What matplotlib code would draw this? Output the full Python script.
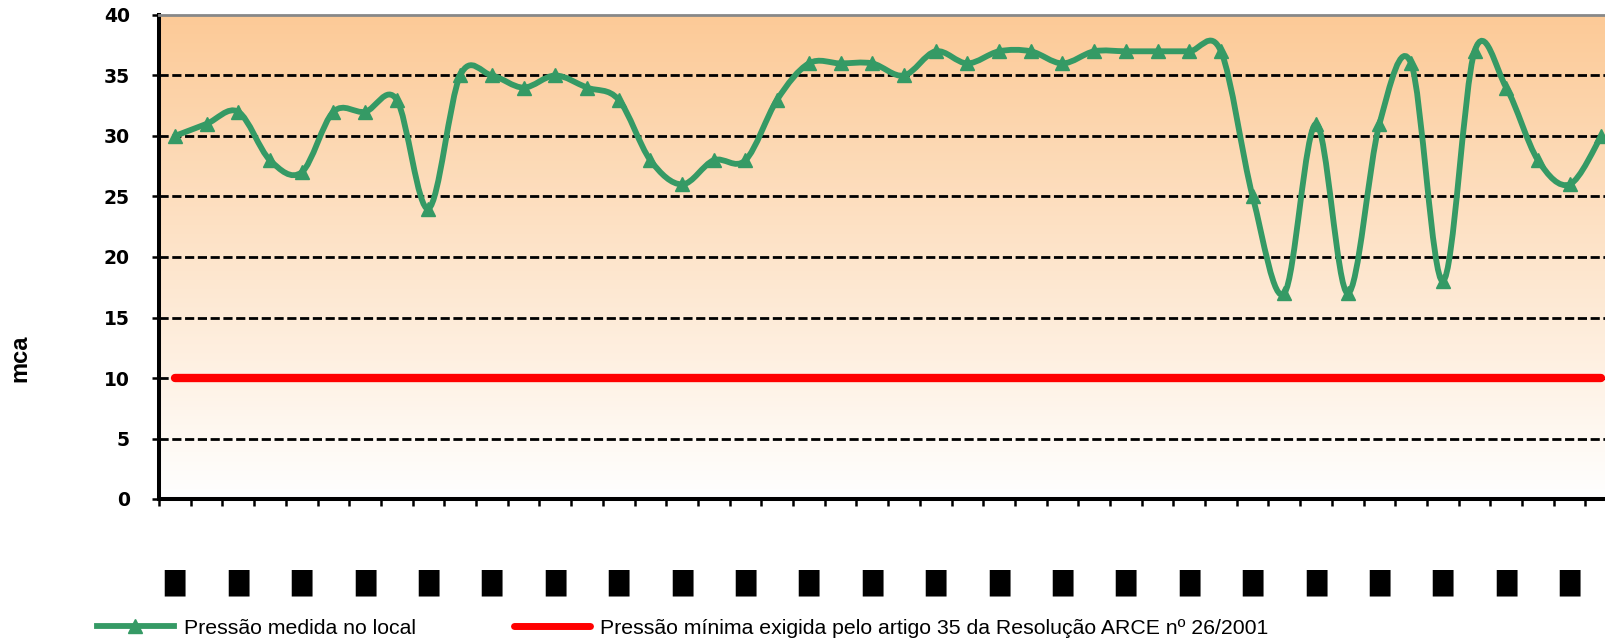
import numpy as np
import matplotlib
matplotlib.use("Agg")
import matplotlib.pyplot as plt
from matplotlib.path import Path
from matplotlib.patches import PathPatch
from matplotlib.lines import Line2D
from matplotlib.colors import LinearSegmentedColormap

# dados
pressao_medida = [30, 31, 32, 28, 27, 32, 32, 33, 24, 35, 35, 34, 35, 34, 33, 28,
                  26, 28, 28, 33, 36, 36, 36, 35, 37, 36, 37, 37, 36, 37, 37, 37,
                  37, 37, 25, 17, 31, 17, 31, 36, 18, 37, 34, 28, 26, 30]
pressao_minima = [10] * len(pressao_medida)
rotulos_x = ["█"] * len(pressao_medida)   # rótulos ilegíveis no original
y_ticks = [0, 5, 10, 15, 20, 25, 30, 35, 40]

nome_medida = "Pressão medida no local"
nome_minima = "Pressão mínima exigida pelo artigo 35 da Resolução ARCE nº 26/2001"
rotulo_y = "mca"

verde = "#359a65"
vermelho = "#ff0000"

plt.rcParams["font.family"] = ["Liberation Sans", "DejaVu Sans"]

fig = plt.figure(figsize=(16.05, 6.41), dpi=100)
ax = fig.add_axes([159 / 1605, 142 / 641, 1 - 159 / 1605, 484 / 641])

x = np.arange(len(pressao_medida))
xmin, xmax = -0.5, -0.5 + (1605 - 159) / 31.7

# fundo em degradê (laranja -> branco)
cmap = LinearSegmentedColormap.from_list("fundo", ["#ffffff", "#fcca97"])
grad = np.linspace(0, 1, 256)[:, None]
ax.imshow(grad, cmap=cmap, origin="lower", extent=[xmin, xmax, 0, 40],
          aspect="auto", zorder=0)

# linhas de grade tracejadas
for v in y_ticks[1:-1]:
    ax.axhline(v, color="black", lw=2.0, ls=(0, (3.3, 1.3)), zorder=1)

# linha mínima
ax.plot(x, pressao_minima, color=vermelho, lw=6, solid_capstyle="round", zorder=2)

# curva suavizada (bezier tipo Excel)
y = np.array(pressao_medida, dtype=float)
pts = np.column_stack([x, y])
verts = [pts[0]]
codes = [Path.MOVETO]
n = len(pts)
for i in range(n - 1):
    p0 = pts[max(i - 1, 0)]
    p1 = pts[i]
    p2 = pts[i + 1]
    p3 = pts[min(i + 2, n - 1)]
    c1 = p1 + (p2 - p0) / 6
    c2 = p2 - (p3 - p1) / 6
    verts += [c1, c2, p2]
    codes += [Path.CURVE4] * 3
ax.add_patch(PathPatch(Path(verts, codes), fill=False, edgecolor=verde, lw=4.2,
                       capstyle="round", joinstyle="round", zorder=3))
ax.plot(x, y, ls="none", marker="^", ms=10, color=verde, zorder=4)

# eixos
ax.spines["right"].set_visible(False)
ax.spines["top"].set_color("#888888")
ax.spines["top"].set_linewidth(2)
ax.spines["left"].set_linewidth(2.9)
ax.spines["bottom"].set_linewidth(2.9)

ax.set_yticks(y_ticks)
ax.set_yticklabels([str(v) for v in y_ticks], fontsize=13.5, fontweight="bold",
                   family="DejaVu Sans")
ax.tick_params(axis="y", length=5, width=1.8, pad=16)

ax.set_xticks(np.arange(len(pressao_medida) + 1) - 0.5, minor=True)
ax.set_xticks(x[::2][:23])
ax.set_xticklabels(rotulos_x[::2][:23], fontsize=19, family="DejaVu Sans")
ax.tick_params(axis="x", which="major", length=0, pad=51)
ax.tick_params(axis="x", which="minor", length=5, width=1.8)

ax.set_xlim(xmin, xmax)
ax.set_ylim(0, 40)

fig.text(20 / 1605, 1 - 358 / 641, rotulo_y, rotation=90, fontsize=17,
         fontweight="bold", ha="center", va="center")

# legenda
h1 = Line2D([], [], color=verde, lw=4.2, marker="^", ms=10)
h2 = Line2D([], [], color=vermelho, lw=5, solid_capstyle="round")
fig.legend([h1, h2], [nome_medida, nome_minima], loc="center left",
           bbox_to_anchor=(78 / 1605, 1 - 628 / 641), ncol=2, frameon=False,
           fontsize=15.3, handlelength=3.6, handletextpad=0.48, columnspacing=4.6)

fig.savefig("out.png", dpi=100)
